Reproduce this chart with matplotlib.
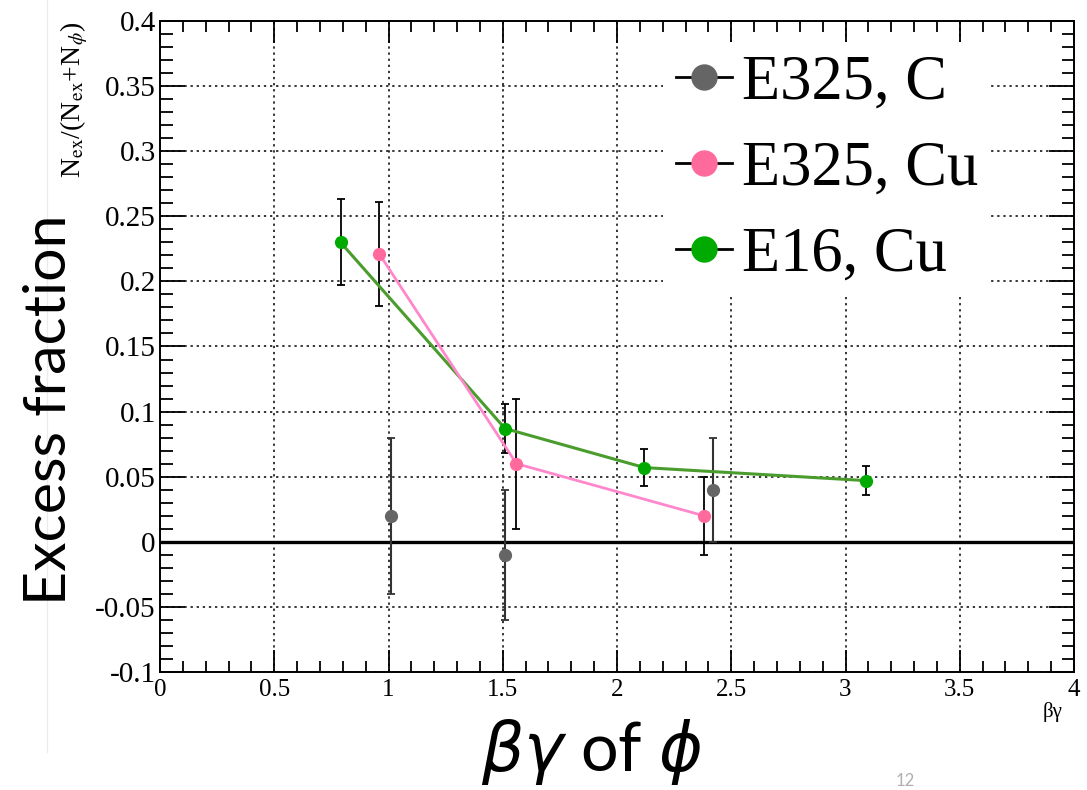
import matplotlib
matplotlib.use('Agg')
import matplotlib.pyplot as plt
from matplotlib.lines import Line2D
from matplotlib.ticker import MultipleLocator

# E325, C
c_x = [1.01, 1.51, 2.42]
c_y = [0.020, -0.010, 0.040]
c_err = [0.060, 0.050, 0.040]

# E325, Cu
cu_x = [0.96, 1.56, 2.38]
cu_y = [0.221, 0.060, 0.020]
cu_err = [0.040, 0.050, 0.030]

# E16, Cu
e16_x = [0.79, 1.51, 2.12, 3.09]
e16_y = [0.230, 0.087, 0.057, 0.047]
e16_err = [0.033, 0.019, 0.014, 0.011]

labels = ['E325, C', 'E325, Cu', 'E16, Cu']
grey = '#656565'
pink_m = '#ff6a9c'
pink_l = '#ff88cc'
green_m = '#00aa00'
green_l = '#4a9c2c'

plt.rcParams['font.family'] = ['Liberation Serif', 'DejaVu Serif']
plt.rcParams['mathtext.fontset'] = 'stix'

fig = plt.figure(figsize=(10.87, 7.9), dpi=100)
ax = fig.add_axes([160/1087, 1-672/790, 914/1087, 651/790])

ax.set_xlim(0, 4)
ax.set_ylim(-0.1, 0.4)
ax.xaxis.set_major_locator(MultipleLocator(0.5))
ax.xaxis.set_minor_locator(MultipleLocator(0.1))
ax.yaxis.set_major_locator(MultipleLocator(0.05))
ax.yaxis.set_minor_locator(MultipleLocator(0.01))
ax.xaxis.set_major_formatter(matplotlib.ticker.FuncFormatter(lambda v, p: f'{v:g}'))
ax.yaxis.set_major_formatter(matplotlib.ticker.FuncFormatter(lambda v, p: f'{v:g}' if abs(v) > 1e-9 else '0'))
ax.tick_params(which='both', direction='in', top=True, right=True, width=1.3)
ax.tick_params(axis='x', which='major', length=16, pad=5, labelsize=18)
ax.tick_params(axis='x', which='minor', length=8)
ax.tick_params(axis='y', which='major', length=18, pad=3, labelsize=21)
ax.tick_params(axis='y', which='minor', length=9)
for s in ax.spines.values():
    s.set_linewidth(1.4)
ax.grid(True, which='major', color='black', linestyle=(0, (1.5, 2.5)), linewidth=1.1)

ax.axhline(0, color='black', lw=2.4, zorder=2)

ax.errorbar(c_x, c_y, yerr=c_err, fmt='o', color=grey, ms=8.5, ecolor='#333333',
            elinewidth=1.5, capsize=3, capthick=1.3, zorder=4)
ax.errorbar(e16_x, e16_y, yerr=e16_err, fmt='none', ecolor='black', elinewidth=1.3,
            capsize=3, capthick=1.3, zorder=3)
ax.plot(e16_x, e16_y, '-', color=green_l, lw=2.2, zorder=4)
ax.plot(e16_x, e16_y, 'o', color=green_m, ms=8.5, zorder=5)
ax.errorbar(cu_x, cu_y, yerr=cu_err, fmt='none', ecolor='black', elinewidth=1.3,
            capsize=3, capthick=1.3, zorder=3)
ax.plot(cu_x, cu_y, '-', color=pink_l, lw=2.0, zorder=5)
ax.plot(cu_x, cu_y, 'o', color=pink_m, ms=8.5, zorder=6)

handles = [Line2D([], [], color='black', lw=2, marker='o', ms=18, mfc=c, mec=c)
           for c in (grey, pink_m, green_m)]
leg = ax.legend(handles, labels, loc='upper left', bbox_to_anchor=(663/1087, 1-42/790),
                bbox_transform=fig.transFigure, fontsize=45, frameon=True, fancybox=False,
                edgecolor='none', facecolor='white', framealpha=1, handlelength=0.9,
                handletextpad=0.16, labelspacing=0.45, borderpad=0.2, borderaxespad=0)
leg.set_zorder(10)

fig.text(74/1087, 1-100/790, r'N$_{\rm ex}$/(N$_{\rm ex}$+N$_{\phi}$)', rotation=90,
         ha='center', va='center', fontsize=20)
fig.text(50/1087, 1-410/790, 'Excess fraction', rotation=90, ha='center', va='center',
         fontsize=42.5, family='Lato')
fig.text(592/1087, 1-752/790, r'$\beta\gamma$ of $\phi$', ha='center', va='center',
         fontsize=48, family='Lato', math_fontfamily='dejavusans')
fig.text(1053/1087, 1-712/790, 'βγ', ha='center', va='center', fontsize=15)
fig.text(905/1087, 1-781/790, '12', ha='center', va='center', fontsize=12,
         color='#b0b0b0', family='Lato')
fig.add_artist(Line2D([47/1087, 47/1087], [1-752/790, 1], color='#ececec', lw=1))

fig.savefig('out.png', dpi=100)
